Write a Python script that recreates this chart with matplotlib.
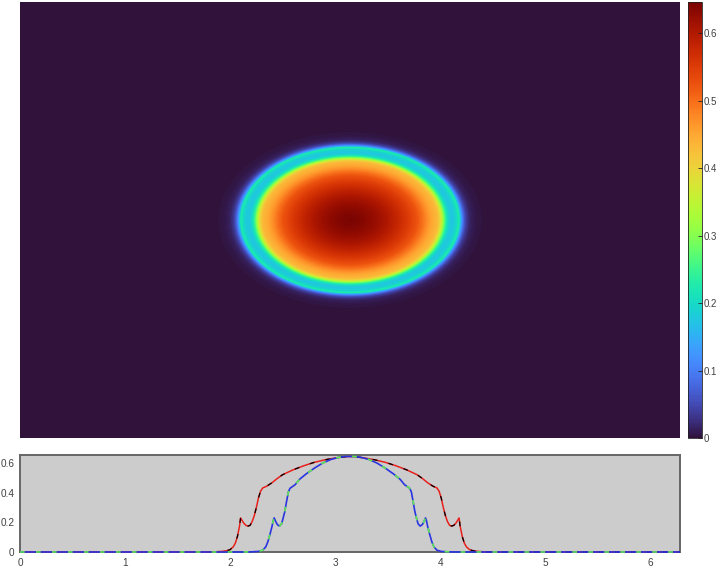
import numpy as np
import matplotlib
matplotlib.use("Agg")
import matplotlib.pyplot as plt

plt.rcParams['font.family'] = ['Liberation Sans', 'DejaVu Sans']

# Horizontal cut through the centre
cut_x_pos = [0, 1.75, 1.85, 1.92, 1.97, 2.00, 2.03, 2.05, 2.07, 2.09, 2.10, 2.115, 2.13, 2.15, 2.17, 2.19, 2.21, 2.23,
             2.25, 2.27, 2.29, 2.31, 2.35, 2.40, 2.45, 2.50, 2.60, 2.70, 2.80, 2.90, 3.00, 3.08, 3.14,
             3.20, 3.28, 3.38, 3.48, 3.58, 3.68, 3.78, 3.83, 3.88, 3.93, 3.97, 3.99, 4.01, 4.03, 4.05, 4.07, 4.09,
             4.11, 4.13, 4.15, 4.165, 4.18, 4.19, 4.21, 4.23, 4.25, 4.28, 4.31, 4.36, 4.43, 4.53, 6.283]
cut_x_val = [0, 0, 0.001, 0.004, 0.009, 0.016, 0.035, 0.06, 0.105, 0.175, 0.23, 0.212, 0.195, 0.18, 0.175, 0.18, 0.205, 0.245,
             0.30, 0.365, 0.41, 0.432, 0.445, 0.468, 0.497, 0.522, 0.555, 0.582, 0.605, 0.622, 0.635, 0.642, 0.645,
             0.642, 0.635, 0.622, 0.605, 0.582, 0.555, 0.522, 0.497, 0.468, 0.445, 0.432, 0.41, 0.365, 0.30, 0.245, 0.205, 0.18,
             0.175, 0.18, 0.195, 0.212, 0.23, 0.175, 0.105, 0.06, 0.035, 0.016, 0.009, 0.004, 0.001, 0, 0]

# Vertical cut through the centre
cut_y_pos = [0, 2.12, 2.20, 2.27, 2.31, 2.34, 2.36, 2.38, 2.40, 2.41, 2.42, 2.435, 2.45, 2.47, 2.49, 2.50, 2.52, 2.54,
             2.555, 2.57, 2.59, 2.62, 2.66, 2.72, 2.80, 2.88, 2.96, 3.04, 3.10, 3.14,
             3.18, 3.24, 3.32, 3.40, 3.48, 3.56, 3.62, 3.66, 3.69, 3.71, 3.726, 3.74, 3.76, 3.78, 3.79, 3.81, 3.83, 3.845,
             3.86, 3.87, 3.88, 3.90, 3.92, 3.94, 3.97, 4.01, 4.08, 4.16, 6.283]
cut_y_val = [0, 0, 0.001, 0.004, 0.012, 0.035, 0.07, 0.12, 0.175, 0.21, 0.23, 0.205, 0.185, 0.175, 0.19, 0.215, 0.27, 0.35,
             0.405, 0.43, 0.44, 0.455, 0.49, 0.525, 0.565, 0.60, 0.625, 0.64, 0.645, 0.645,
             0.645, 0.64, 0.625, 0.60, 0.565, 0.525, 0.49, 0.455, 0.44, 0.43, 0.405, 0.35, 0.27, 0.215, 0.19, 0.175, 0.185, 0.205,
             0.23, 0.21, 0.175, 0.12, 0.07, 0.035, 0.012, 0.004, 0.001, 0, 0]

x_ticks = [0, 1, 2, 3, 4, 5, 6]
y_ticks = [0, 0.2, 0.4, 0.6]
cbar_ticks = [0, 0.1, 0.2, 0.3, 0.4, 0.5, 0.6]
x_max = 2 * np.pi
y_span = 4.15
centre = np.pi
aspect_ratio = 1.50
v_max = 0.646

# Field: elliptical sweep of the centre-to-edge half of the horizontal cut
half_pos = np.array(cut_x_pos[:33])
half_val = np.array(cut_x_val[:33])
gx = np.linspace(0, x_max, 660)
gy = np.linspace(-y_span / 2, y_span / 2, 436)
X, Y = np.meshgrid(gx, gy)
R = np.hypot(X - centre, Y * aspect_ratio)
Z = np.interp(centre - R, half_pos, half_val, left=0)

W, H = 719, 569
fig = plt.figure(figsize=(W / 100, H / 100), dpi=100, facecolor='white')
def box(l, t, r, b):
    return [l / W, 1 - b / H, (r - l) / W, (b - t) / H]

text_col = '#404040'
ax = fig.add_axes(box(20, 2, 680, 438))
im = ax.imshow(Z, extent=[0, x_max, -y_span / 2, y_span / 2], origin='lower', aspect='auto',
               cmap='turbo', vmin=0, vmax=v_max, interpolation='bilinear')
ax.axis('off')

cax = fig.add_axes(box(688, 2, 702, 438))
cb = fig.colorbar(im, cax=cax, ticks=cbar_ticks)
cb.ax.set_yticklabels(['0', '0.1', '0.2', '0.3', '0.4', '0.5', '0.6'])
cb.ax.tick_params(direction='in', length=3, width=0.6, color='#222222', labelsize=7,
                  labelcolor=text_col, pad=1.5)
cb.outline.set_linewidth(0.6)
cb.outline.set_edgecolor('#222222')

lo = fig.add_axes(box(20, 455, 680, 552))
lo.set_facecolor('#cccccc')
red_lw = 1.1
blue_lw = 1.2
black_lw = 0.9
dash_pt = 3.4
gap_pt = 8.1
lo.plot(cut_x_pos, cut_x_val, color='#e8201c', lw=red_lw, solid_capstyle='butt', zorder=3, clip_on=False)
lo.plot(cut_x_pos, cut_x_val, color='black', lw=black_lw, ls=(0, (dash_pt / black_lw, gap_pt / black_lw)), zorder=3, clip_on=False)
lo.plot(cut_y_pos, cut_y_val, color='#2a34e0', lw=blue_lw, solid_capstyle='butt', zorder=3, clip_on=False)
lo.plot(cut_y_pos, cut_y_val, color='#60e850', lw=blue_lw, ls=(0, (dash_pt / blue_lw, gap_pt / blue_lw)), zorder=3, clip_on=False)
lo.set_xlim(0, x_max)
lo.set_ylim(0, 0.655)
lo.set_xticks(x_ticks)
lo.set_yticks(y_ticks)
lo.set_yticklabels(['0', '0.2', '0.4', '0.6'])
lo.tick_params(length=0, labelsize=7.2, labelcolor=text_col, pad=4)
for s in lo.spines.values():
    s.set_color('#666666')
    s.set_linewidth(1.4)

fig.savefig('out.png', dpi=100, facecolor='white')
